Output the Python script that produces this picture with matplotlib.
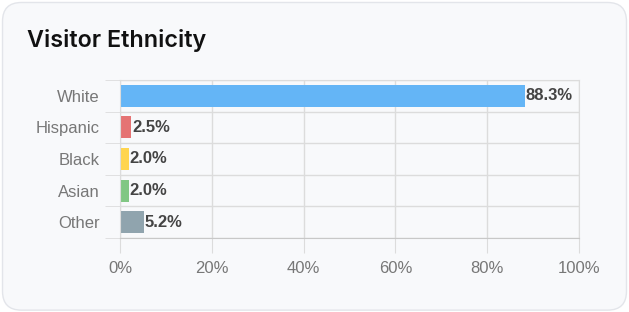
import matplotlib.pyplot as plt
from matplotlib.patches import FancyBboxPatch
from matplotlib.ticker import FixedLocator

# Data
categories = ['White', 'Hispanic', 'Black', 'Asian', 'Other']
values = [88.3, 2.5, 2.0, 2.0, 5.2]
colors = ['#64b5f6', '#e57373', '#ffd54f', '#81c784', '#90a4ae']
x_ticks = [0, 20, 40, 60, 80, 100]

fig = plt.figure(figsize=(6.29, 3.12), dpi=100)
fig.patch.set_facecolor('white')

# card background
card = FancyBboxPatch((0.004, 0.006), 0.992, 0.986,
                      boxstyle='round,pad=0,rounding_size=0.03',
                      transform=fig.transFigure, facecolor='#f8f9fb',
                      edgecolor='#e3e5ea', linewidth=1.0, zorder=-5,
                      mutation_aspect=629 / 312)
fig.patches.append(card)

fig.text(27 / 629, 1 - 40 / 312, 'Visitor Ethnicity', fontsize=16.8,
         fontweight='semibold', family='Inter', color='#111111', va='center')

ax = fig.add_axes([120 / 629, 1 - 238 / 312, 459 / 629, 158 / 312])
ax.set_facecolor('#f8f9fb')

y = list(range(len(categories)))
ax.barh(y, values, height=0.7, color=colors, zorder=2)
ax.set_xlim(0, 100)
ax.set_ylim(len(categories) - 0.5, -0.5)

for yi, v in zip(y, values):
    ax.text(v + 0.1, yi, f'{v:.1f}%', va='center', ha='left', fontsize=12,
            fontweight='bold', color='#444444', family='Liberation Sans', zorder=3)

grid_c = '#dcdcdc'
ax.set_xticks(x_ticks)
ax.set_xticklabels([f'{t}%' for t in x_ticks])
ax.set_yticks(y)
ax.set_yticklabels(categories)
ax.yaxis.set_minor_locator(FixedLocator([i - 0.5 for i in range(len(categories) + 1)]))

ax.tick_params(axis='x', length=10.5, color=grid_c, pad=6, labelsize=12, labelcolor='#777777')
ax.tick_params(axis='y', which='major', length=0, pad=14.5, labelsize=12, labelcolor='#777777')
ax.tick_params(axis='y', which='minor', length=11, color=grid_c)
for lab in ax.get_xticklabels() + ax.get_yticklabels():
    lab.set_family('Liberation Sans')

ax.grid(axis='x', color=grid_c, linewidth=1, zorder=1)
ax.grid(axis='y', which='minor', color=grid_c, linewidth=1, zorder=1)
for s in ['top', 'right', 'left']:
    ax.spines[s].set_color(grid_c)
ax.spines['bottom'].set_color('#c8c8c8')
ax.set_axisbelow(True)

plt.savefig('out.png', dpi=100, facecolor=fig.get_facecolor())
